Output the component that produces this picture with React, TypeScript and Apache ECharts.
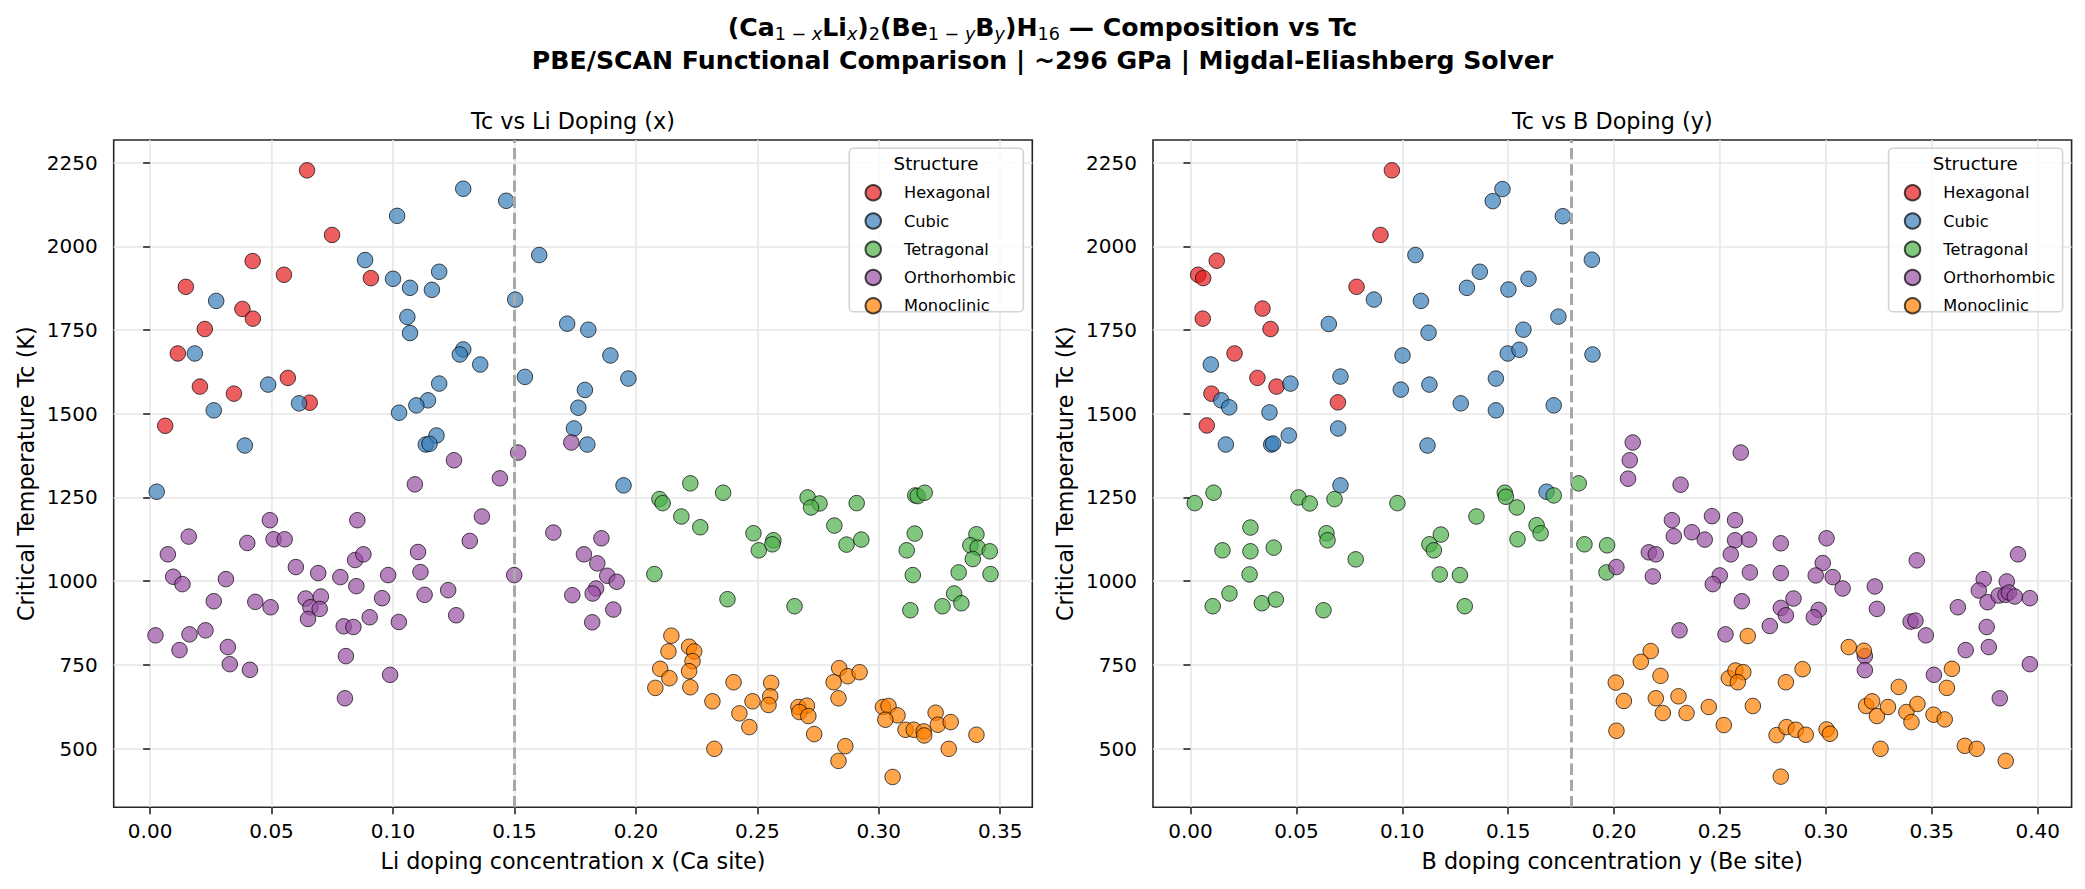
import React, { useRef, useEffect } from 'react';
import * as echarts from 'echarts';

// [doping, Tc] per structure
const hexagonalLi = [
  [0.0646, 2227], [0.0749, 2034], [0.0422, 1956], [0.0551, 1915], [0.0909, 1905], [0.0147, 1879],
  [0.038, 1813], [0.0423, 1784], [0.0225, 1753], [0.0114, 1680], [0.0205, 1581], [0.0345, 1560],
  [0.0567, 1607], [0.0657, 1533], [0.0062, 1464]
];
const cubicLi = [
  [0.1017, 2091], [0.0885, 1959], [0.1, 1903], [0.107, 1876], [0.116, 1870], [0.119, 1924],
  [0.0272, 1837], [0.1059, 1789], [0.107, 1741], [0.0184, 1680], [0.0486, 1587], [0.0613, 1531],
  [0.0262, 1510], [0.039, 1405], [0.0027, 1267], [0.119, 1590], [0.1144, 1540], [0.1096, 1525],
  [0.1025, 1503], [0.1179, 1435], [0.1135, 1408], [0.115, 1410], [0.1289, 1692], [0.1275, 1677],
  [0.1359, 1647], [0.1543, 1610], [0.1289, 2172], [0.1466, 2136], [0.1602, 1974], [0.1503, 1841],
  [0.1717, 1769], [0.1804, 1751], [0.1895, 1674], [0.1969, 1605], [0.179, 1571], [0.1763, 1518],
  [0.1745, 1456], [0.18, 1408], [0.1949, 1286]
];
const tetragonalLi = [
  [0.2097, 1245], [0.211, 1233], [0.2224, 1292], [0.2359, 1264], [0.2187, 1193], [0.2265, 1161],
  [0.2076, 1021], [0.2377, 946], [0.2484, 1143], [0.2506, 1092], [0.2566, 1122], [0.2562, 1110],
  [0.2707, 1250], [0.2756, 1232], [0.2721, 1220], [0.2909, 1233], [0.2817, 1166], [0.2867, 1109],
  [0.2928, 1124], [0.2653, 925], [0.315, 1256], [0.316, 1254], [0.3189, 1264], [0.3148, 1142],
  [0.3115, 1092], [0.314, 1018], [0.313, 913], [0.3402, 1140], [0.3377, 1107], [0.3407, 1100],
  [0.3457, 1089], [0.3387, 1066], [0.3329, 1026], [0.346, 1021], [0.331, 963], [0.334, 934],
  [0.3262, 925]
];
const orthorhombicLi = [
  [0.0493, 1182], [0.0853, 1182], [0.0159, 1133], [0.0073, 1080], [0.04, 1114], [0.0508, 1125],
  [0.0554, 1125], [0.06, 1042], [0.0692, 1024], [0.0783, 1012], [0.0844, 1063], [0.0878, 1080],
  [0.0849, 985], [0.098, 1018], [0.0955, 949], [0.1103, 1087], [0.1113, 1027], [0.113, 959],
  [0.0095, 1013], [0.0133, 991], [0.0312, 1006], [0.0262, 940], [0.0433, 938], [0.0496, 922],
  [0.064, 948], [0.0703, 954], [0.066, 922], [0.0698, 917], [0.065, 887], [0.109, 1289],
  [0.1316, 1120], [0.1499, 1018], [0.1227, 973], [0.126, 898], [0.0904, 892], [0.1024, 878],
  [0.0797, 865], [0.0837, 863], [0.0022, 838], [0.0162, 841], [0.0228, 853], [0.0121, 794],
  [0.032, 803], [0.0328, 752], [0.0411, 735], [0.0806, 776], [0.0988, 720], [0.0802, 650],
  [0.1251, 1361], [0.1515, 1384], [0.144, 1307], [0.1734, 1414], [0.1366, 1193], [0.166, 1145],
  [0.1858, 1128], [0.1786, 1080], [0.1841, 1053], [0.1882, 1016], [0.1921, 998], [0.1836, 978],
  [0.1822, 963], [0.1738, 958], [0.1907, 915], [0.182, 877]
];
const monoclinicLi = [
  [0.2146, 837], [0.2134, 790], [0.2219, 804], [0.224, 790], [0.2233, 761], [0.2219, 731],
  [0.21, 738], [0.2138, 710], [0.208, 681], [0.2224, 683], [0.2315, 641], [0.2402, 698],
  [0.2426, 605], [0.2467, 564], [0.2323, 499], [0.248, 641], [0.2557, 696], [0.2553, 656],
  [0.2546, 630], [0.2669, 624], [0.2704, 628], [0.2673, 609], [0.271, 597], [0.2734, 543],
  [0.2837, 740], [0.2872, 716], [0.2921, 728], [0.2814, 698], [0.2834, 650], [0.2862, 507],
  [0.2834, 463], [0.3017, 624], [0.304, 627], [0.3077, 599], [0.3027, 586], [0.311, 556],
  [0.3144, 556], [0.3185, 551], [0.3187, 539], [0.3234, 607], [0.3243, 571], [0.3296, 579],
  [0.3288, 499], [0.3057, 415], [0.3402, 541]
];

const hexagonalB = [
  [0.0951, 2227], [0.0897, 2034], [0.0124, 1957], [0.0036, 1915], [0.006, 1905], [0.0784, 1879],
  [0.0058, 1784], [0.034, 1814], [0.0378, 1753], [0.0208, 1680], [0.0316, 1607], [0.0406, 1581],
  [0.0099, 1560], [0.0696, 1534], [0.0077, 1465]
];
const cubicB = [
  [0.1473, 2171], [0.1427, 2135], [0.1758, 2090], [0.1062, 1974], [0.1895, 1960], [0.1366, 1924],
  [0.1596, 1903], [0.1305, 1876], [0.1501, 1871], [0.0866, 1841], [0.1088, 1837], [0.1737, 1790],
  [0.0653, 1768], [0.1572, 1751], [0.1124, 1742], [0.1498, 1680], [0.1553, 1691], [0.1898, 1677],
  [0.1001, 1674], [0.0096, 1647], [0.0708, 1611], [0.0472, 1590], [0.1128, 1587], [0.0993, 1572],
  [0.1442, 1605], [0.0145, 1540], [0.0183, 1519], [0.0373, 1504], [0.1276, 1531], [0.1442, 1510],
  [0.1715, 1525], [0.0697, 1456], [0.0464, 1435], [0.0167, 1408], [0.0381, 1408], [0.039, 1411],
  [0.1119, 1405], [0.0708, 1286], [0.1681, 1267]
];
const tetragonalB = [
  [0.002, 1233], [0.0109, 1264], [0.051, 1250], [0.0563, 1232], [0.068, 1245], [0.0977, 1233],
  [0.1484, 1264], [0.1489, 1252], [0.1541, 1220], [0.1715, 1256], [0.1833, 1292], [0.135, 1193],
  [0.0283, 1160], [0.0151, 1092], [0.0283, 1089], [0.0393, 1100], [0.0279, 1020], [0.0184, 963],
  [0.0105, 925], [0.0337, 934], [0.0403, 945], [0.0642, 1143], [0.0647, 1122], [0.078, 1065],
  [0.0628, 913], [0.1182, 1139], [0.1128, 1110], [0.1149, 1092], [0.1177, 1020], [0.1272, 1018],
  [0.1295, 925], [0.1544, 1125], [0.1634, 1167], [0.1653, 1143], [0.186, 1110], [0.1967, 1107],
  [0.1964, 1026]
];
const orthorhombicB = [
  [0.2088, 1414], [0.2074, 1361], [0.2066, 1306], [0.2598, 1384], [0.2314, 1288], [0.2273, 1182],
  [0.2462, 1194], [0.2571, 1182], [0.2282, 1134], [0.2367, 1146], [0.2428, 1124], [0.2571, 1122],
  [0.2637, 1124], [0.2551, 1080], [0.2787, 1113], [0.3003, 1128], [0.2164, 1086], [0.2197, 1080],
  [0.2011, 1042], [0.2183, 1014], [0.2499, 1017], [0.2466, 991], [0.2641, 1026], [0.2787, 1024],
  [0.2985, 1054], [0.2952, 1017], [0.3032, 1012], [0.3079, 978], [0.2603, 940], [0.2847, 948],
  [0.2787, 920], [0.2811, 898], [0.2966, 914], [0.2943, 892], [0.2735, 866], [0.2526, 841],
  [0.2309, 853], [0.3231, 984], [0.3241, 917], [0.3429, 1062], [0.34, 879], [0.3423, 882],
  [0.3472, 838], [0.3184, 776], [0.3184, 734], [0.3623, 922], [0.3745, 1006], [0.3722, 972],
  [0.3763, 937], [0.3854, 999], [0.3816, 957], [0.3848, 959], [0.3864, 966], [0.3892, 954],
  [0.3963, 949], [0.3907, 1080], [0.3759, 863], [0.3769, 803], [0.366, 794], [0.351, 720],
  [0.3821, 650], [0.3963, 752]
];
const monoclinicB = [
  [0.2631, 836], [0.2173, 791], [0.2126, 759], [0.2008, 697], [0.2219, 717], [0.2046, 642],
  [0.2197, 650], [0.2304, 656], [0.223, 606], [0.2342, 606], [0.2447, 624], [0.2011, 553],
  [0.2518, 570], [0.2655, 627], [0.2542, 710], [0.2573, 733], [0.261, 728], [0.2584, 698],
  [0.2811, 698], [0.289, 737], [0.2767, 540], [0.2814, 564], [0.2858, 556], [0.2905, 541],
  [0.2787, 416], [0.3003, 557], [0.3019, 544], [0.3108, 803], [0.3179, 792], [0.319, 627],
  [0.3218, 641], [0.3241, 597], [0.3293, 624], [0.3344, 684], [0.338, 609], [0.3404, 579],
  [0.3432, 633], [0.3258, 499], [0.3595, 738], [0.3571, 681], [0.3508, 601], [0.3561, 587],
  [0.3656, 508], [0.3712, 499], [0.3849, 463]
];

const structures = ['Hexagonal', 'Cubic', 'Tetragonal', 'Orthorhombic', 'Monoclinic'];
const structureColors = ['#e41a1c', '#377eb8', '#4daf4a', '#984ea3', '#ff7f00'];
const liData = [hexagonalLi, cubicLi, tetragonalLi, orthorhombicLi, monoclinicLi];
const bData = [hexagonalB, cubicB, tetragonalB, orthorhombicB, monoclinicB];

const liTicks = [0, 0.05, 0.1, 0.15, 0.2, 0.25, 0.3, 0.35];
const bTicks = [0, 0.05, 0.1, 0.15, 0.2, 0.25, 0.3, 0.35, 0.4];
const tcTicks = [500, 750, 1000, 1250, 1500, 1750, 2000, 2250];
const liThreshold = 0.15;
const bThreshold = 0.18;

const FONT = "'DejaVu Sans', sans-serif";
const GRID_W = 918.6;
const GRID_H = 667.3;
const GRID_TOP = 140;
const gridLefts = [113.7, 1153];

const xAxisFor = (idx: number, ticks: number[], min: number, max: number, name: string) => ({
  type: 'value',
  gridIndex: idx,
  min,
  max,
  name,
  nameLocation: 'middle',
  nameGap: 43,
  nameTextStyle: { fontFamily: FONT, fontSize: 22.3, color: '#000' },
  axisLine: { show: false },
  axisTick: {
    show: true, inside: false, length: 7, customValues: ticks,
    lineStyle: { color: '#262626', width: 1.6 }
  },
  axisLabel: {
    customValues: ticks, margin: 13.5, fontFamily: FONT, fontSize: 20, color: '#000',
    formatter: (v: number) => v.toFixed(2)
  },
  splitLine: { show: true, lineStyle: { color: '#e7e7e7', width: 1.6 } }
});

const yAxisFor = (idx: number) => ({
  type: 'value',
  gridIndex: idx,
  min: 324.4,
  max: 2317.6,
  name: 'Critical Temperature Tc (K)',
  nameLocation: 'middle',
  nameGap: 77,
  nameTextStyle: { fontFamily: FONT, fontSize: 22.3, color: '#000' },
  axisLine: { show: false },
  axisTick: {
    show: true, inside: false, length: 7, customValues: tcTicks,
    lineStyle: { color: '#262626', width: 1.6 }
  },
  axisLabel: {
    customValues: tcTicks, margin: 16, fontFamily: FONT, fontSize: 20, color: '#000',
    formatter: (v: number) => String(v)
  },
  splitLine: { show: true, lineStyle: { color: '#e7e7e7', width: 1.6 } }
});

const makeSeries = (panel: number, sets: number[][][], threshold: number) =>
  sets.map((data, i) => ({
    name: structures[i],
    type: 'scatter',
    xAxisIndex: panel,
    yAxisIndex: panel,
    data,
    symbol: 'circle',
    symbolSize: 15.5,
    itemStyle: { color: structureColors[i], opacity: 0.7, borderColor: '#000', borderWidth: 1 },
    emphasis: { disabled: true },
    markLine: i === 0 ? {
      silent: true,
      symbol: ['none', 'none'],
      label: { show: false },
      lineStyle: { type: [11.3, 4.9], color: '#a8a8a8', width: 3 },
      emphasis: { disabled: true },
      data: [{ xAxis: threshold }]
    } : undefined
  }));

const legendFor = (panel: number) => {
  const dx = gridLefts[panel] - gridLefts[0];
  return {
    orient: 'vertical',
    left: 864.5 + dx,
    top: 184,
    padding: 0,
    itemWidth: 15.5,
    itemHeight: 15.5,
    itemGap: 10.75,
    icon: 'circle',
    selectedMode: false,
    data: structures,
    textStyle: { fontFamily: FONT, fontSize: 16.2, color: '#000', lineHeight: 15.5, padding: [0, 0, 0, 18] }
  };
};

const legendFrame = (panel: number) => {
  const dx = gridLefts[panel] - gridLefts[0];
  return [
    {
      type: 'rect',
      z: 3,
      shape: { x: 849.3 + dx, y: 148.3, width: 174, height: 163.4, r: 4 },
      style: { fill: 'rgba(255,255,255,0.8)', stroke: '#d4d4d4', lineWidth: 1.6 }
    },
    {
      type: 'text',
      z: 4,
      x: 936 + dx,
      y: 163.3,
      style: {
        text: 'Structure', fontFamily: FONT, fontSize: 18.25, fill: '#000',
        align: 'center', verticalAlign: 'middle'
      }
    }
  ];
};

const bold = { fontFamily: FONT, fontWeight: 'bold', fontSize: 25.2, lineHeight: 30, verticalAlign: 'middle', fill: '#000' };
const sub = { fontFamily: FONT, fontSize: 17.6, lineHeight: 16.8, verticalAlign: 'bottom', fill: '#000' };
const subItalic = { ...sub, fontStyle: 'italic' };

const option = {
  animation: false,
  backgroundColor: '#fff',
  grid: gridLefts.map((left) => ({
    left, top: GRID_TOP, width: GRID_W, height: GRID_H,
    show: true, borderColor: '#262626', borderWidth: 1.6, backgroundColor: 'transparent',
    containLabel: false, outerBoundsMode: 'none'
  })),
  xAxis: [
    xAxisFor(0, liTicks, -0.015, 0.3632, 'Li doping concentration x (Ca site)'),
    xAxisFor(1, bTicks, -0.0177, 0.416, 'B doping concentration y (Be site)')
  ],
  yAxis: [yAxisFor(0), yAxisFor(1)],
  legend: [legendFor(0), legendFor(1)],
  series: [...makeSeries(0, liData, liThreshold), ...makeSeries(1, bData, bThreshold)],
  graphic: [
    {
      type: 'text',
      x: 1042.5,
      y: 27.5,
      style: {
        text: '{b|(Ca}{s|1 \u2212 }{si|x}{b|Li}{si|x}{b|)}{s|2}{b|(Be}{s|1 \u2212 }{si|y}{b|B}{si|y}{b|)H}{s|16}{b| \u2014 Composition vs Tc}',
        rich: { b: bold, s: sub, si: subItalic },
        align: 'center',
        verticalAlign: 'middle'
      }
    },
    {
      type: 'text',
      x: 1042.5,
      y: 60,
      style: {
        text: 'PBE/SCAN Functional Comparison | ~296 GPa | Migdal-Eliashberg Solver',
        fontFamily: FONT, fontWeight: 'bold', fontSize: 25.2, fill: '#000',
        align: 'center', verticalAlign: 'middle'
      }
    },
    {
      type: 'text',
      x: gridLefts[0] + GRID_W / 2,
      y: 120.5,
      style: {
        text: 'Tc vs Li Doping (x)', fontFamily: FONT, fontSize: 22.3, fill: '#000',
        align: 'center', verticalAlign: 'middle'
      }
    },
    {
      type: 'text',
      x: gridLefts[1] + GRID_W / 2,
      y: 120.5,
      style: {
        text: 'Tc vs B Doping (y)', fontFamily: FONT, fontSize: 22.3, fill: '#000',
        align: 'center', verticalAlign: 'middle'
      }
    },
    ...legendFrame(0),
    ...legendFrame(1)
  ]
};

export default function App() {
  const chartRef = useRef<HTMLDivElement>(null);

  useEffect(() => {
    if (!chartRef.current) return;
    const chart = echarts.init(chartRef.current, undefined, { renderer: 'svg' });
    chart.setOption(option as any);
    return () => {
      chart.dispose();
    };
  }, []);

  return (
    <div
      ref={chartRef}
      style={{ position: 'absolute', left: 0, top: 0, width: 2085, height: 889, background: '#fff' }}
    />
  );
}
